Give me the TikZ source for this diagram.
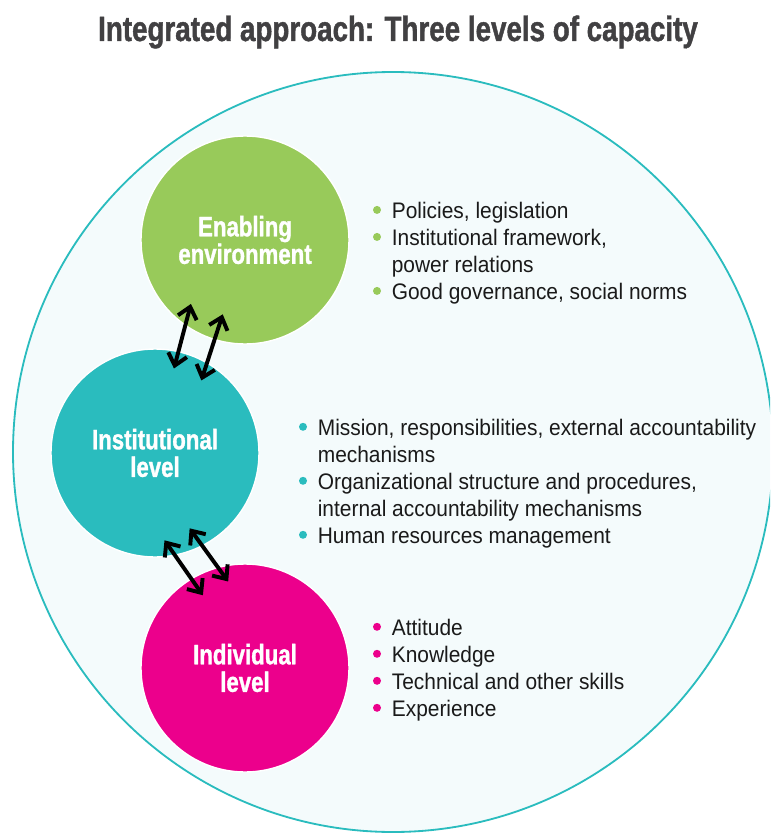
\documentclass[tikz,border=0pt]{standalone}
\usepackage{fontspec}
\setmainfont{Liberation Sans}
\newfontfamily\condfont[FakeStretch=0.79, FakeBold=1.2]{Liberation Sans Bold}
\newfontfamily\bodyfont[FakeStretch=0.93]{Liberation Sans}
\usetikzlibrary{arrows.meta}
\definecolor{enablegreen}{HTML}{98CA5A}
\definecolor{instteal}{HTML}{2ABCBE}
\definecolor{indivpink}{HTML}{EC008C}
\definecolor{outerbg}{HTML}{F4FBFC}
\definecolor{titlegray}{HTML}{414042}
\definecolor{bodytext}{HTML}{1A1A1A}

% room left for the bullet in front of each list line
\newcommand{\indentitem}{\hspace*{13.2pt}}

\begin{document}
\begin{tikzpicture}[
    >={Straight Barb[length=2.8mm, width=4.8mm]},
    level/.style={circle, fill=#1, draw=white, line width=1pt, minimum size=5.2cm, inner sep=0pt, outer sep=0pt, align=center, text=white, font=\condfont\fontsize{20}{19.6}\selectfont},
    link/.style={<->, line width=2.8pt, black},
    items/.style={anchor=north west, inner sep=0pt, align=left, text=bodytext, font=\bodyfont\fontsize{16}{19.2}\selectfont}
]
    \useasboundingbox (0,0) rectangle (19.25,-20.9);

    % 1. Outer boundary circle (cut by the page)
    \begin{scope}
        \clip (0,0) rectangle (19.25,-20.9);
        \fill[outerbg, draw=instteal, line width=1.3pt] (9.825,-11.3) circle (9.5);
    \end{scope}

    % 2. Title
    \node[titlegray, anchor=base, font=\condfont\fontsize{25}{28}\selectfont] (title) at (9.95,-1.025) {Integrated approach: Three levels of capacity};

    % 3. Capacity levels
    \node[level=enablegreen] (enabling) at (6.125,-6.0) {Enabling\\environment};
    \node[level=instteal] (institutional) at (3.875,-11.325) {Institutional\\level};
    \node[level=indivpink] (individual) at (6.125,-16.7) {Individual\\level};

    % 4. Links between levels
    \draw[link, shorten <=-0.435cm, shorten >=-0.55cm] (institutional.77.5) -- (enabling.235.5);
    \draw[link, shorten <=-0.46cm, shorten >=-0.66cm] (institutional.60.3) -- (enabling.253.5);
    \draw[link, shorten <=-0.45cm, shorten >=-0.5cm] (institutional.281.1) -- (individual.121.4);
    \draw[link, shorten <=-0.535cm, shorten >=-0.43cm] (institutional.297.8) -- (individual.105.2);

    % 5. Bullet lists
    \node[items] (enablingitems) at (9.325,-5.048) {\indentitem Policies, legislation\\
        \indentitem Institutional framework,\\
        \indentitem power relations\\
        \indentitem Good governance, social norms};
    \node[items] (institutionalitems) at (7.475,-10.47) {\indentitem Mission, responsibilities, external accountability\\
        \indentitem mechanisms\\
        \indentitem Organizational structure and procedures,\\
        \indentitem internal accountability mechanisms\\
        \indentitem Human resources management};
    \node[items] (individualitems) at (9.325,-15.47) {\indentitem Attitude\\
        \indentitem Knowledge\\
        \indentitem Technical and other skills\\
        \indentitem Experience};

    % bullets (one list line = 0.675)
    \foreach \row in {0,1,3}
        \fill[enablegreen] (enablingitems.north west) ++(0.1,-0.2-0.675*\row) circle (0.1);
    \foreach \row in {0,2,4}
        \fill[instteal] (institutionalitems.north west) ++(0.1,-0.2-0.675*\row) circle (0.1);
    \foreach \row in {0,1,2,3}
        \fill[indivpink] (individualitems.north west) ++(0.1,-0.2-0.675*\row) circle (0.1);

\end{tikzpicture}
\end{document}
